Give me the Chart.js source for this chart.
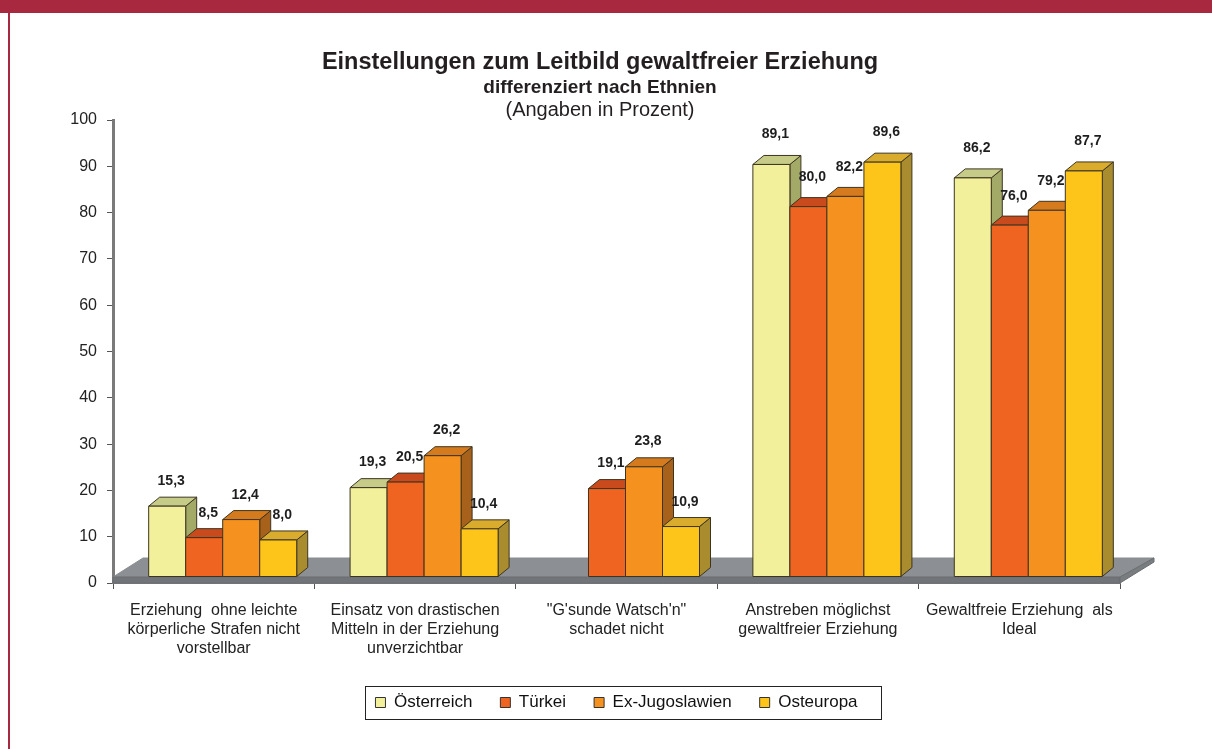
<!DOCTYPE html>
<html><head><meta charset="utf-8">
<script src="https://cdn.jsdelivr.net/npm/chart.js@4.4.1/dist/chart.umd.min.js"></script>
<style>html,body{margin:0;padding:0;background:#fff;}canvas{display:block;}</style>
</head><body>
<canvas id="c" width="1212" height="749"></canvas>
<script>
// ---------- data ----------
const titleLines = ["Einstellungen zum Leitbild gewaltfreier Erziehung", "differenziert nach Ethnien", "(Angaben in Prozent)"];
const categories = [
  ["Erziehung  ohne leichte", "körperliche Strafen nicht", "vorstellbar"],
  ["Einsatz von drastischen", "Mitteln in der Erziehung", "unverzichtbar"],
  ["\"G'sunde Watsch'n\"", "schadet nicht"],
  ["Anstreben möglichst", "gewaltfreier Erziehung"],
  ["Gewaltfreie Erziehung  als", "Ideal"]
];
const seriesNames = ["Österreich", "Türkei", "Ex-Jugoslawien", "Osteuropa"];
const oesterreich   = [15.3, 19.3, null, 89.1, 86.2];
const tuerkei       = [8.5, 20.5, 19.1, 80.0, 76.0];
const exJugoslawien = [12.4, 26.2, 23.8, 82.2, 79.2];
const osteuropa     = [8.0, 10.4, 10.9, 89.6, 87.7];
const yTickValues   = [0, 10, 20, 30, 40, 50, 60, 70, 80, 90, 100];

// ---------- style ----------
const FONT = '"Liberation Sans", Arial, sans-serif';
const palette = [
  {front: '#f3f09c', top: '#c6cc88', side: '#a3aa68'},
  {front: '#ef6420', top: '#c94a1c', side: '#9c3c15'},
  {front: '#f5921f', top: '#d57b1e', side: '#a8611a'},
  {front: '#fdc419', top: '#d9ac2e', side: '#a98c2e'}
];
const SX = 9, SY = -6, DX = 11, DY = 9;       // 3D offsets
const FLOOR_DX = 34, FLOOR_DY = 19;

function poly(ctx, pts, fill) {
  ctx.beginPath();
  ctx.moveTo(pts[0][0], pts[0][1]);
  for (let k = 1; k < pts.length; k++) ctx.lineTo(pts[k][0], pts[k][1]);
  ctx.closePath();
  ctx.fillStyle = fill; ctx.fill(); ctx.stroke();
}
function fmt(v) { return v.toFixed(1).replace('.', ','); }

const bar3d = {
  id: 'bar3d',
  beforeDraw(chart) {
    const ctx = chart.ctx;
    ctx.save();
    ctx.fillStyle = '#ffffff'; ctx.fillRect(0, 0, chart.width, chart.height);
    ctx.fillStyle = '#a8293f';
    ctx.fillRect(0, 0, chart.width, 13);
    ctx.fillRect(8, 13, 2, chart.height - 13);
    ctx.restore();
  },
  beforeDatasetsDraw(chart) {
    const ctx = chart.ctx, xs = chart.scales.x, ys = chart.scales.y;
    const y0 = ys.getPixelForValue(0);
    ctx.save();
    // floor
    const fl = xs.left, fr = xs.right, fy = y0 - 6;
    ctx.lineWidth = 1; ctx.strokeStyle = '#8a8d90';
    poly(ctx, [[fl, fy], [fl + FLOOR_DX - 4, fy - FLOOR_DY], [fr + FLOOR_DX, fy - FLOOR_DY], [fr, fy]], '#8c8f93');
    ctx.strokeStyle = '#6a6d70';
    poly(ctx, [[fl, fy], [fr, fy], [fr, y0], [fl, y0]], '#717478');
    poly(ctx, [[fr, fy], [fr + FLOOR_DX, fy - FLOOR_DY], [fr + FLOOR_DX, fy - FLOOR_DY + 4], [fr, y0]], '#7a7d80');

    // bars
    const labels = [];
    ctx.lineWidth = 1; ctx.strokeStyle = '#3d3522'; ctx.lineJoin = 'round';
    for (let j = 0; j < chart.data.labels.length; j++) {
      for (let i = 0; i < chart.data.datasets.length; i++) {
        const v = chart.data.datasets[i].data[j];
        if (v == null) continue;
        const el = chart.getDatasetMeta(i).data[j];
        const p = el.getProps(['x', 'y', 'base', 'width'], true);
        const l = p.x - p.width / 2 + SX, r = p.x + p.width / 2 + SX;
        const t = p.y + SY, b = p.base + SY;
        const c = palette[i];
        poly(ctx, [[r, t], [r + DX, t - DY], [r + DX, b - DY], [r, b]], c.side);
        poly(ctx, [[l, t], [l + DX, t - DY], [r + DX, t - DY], [r, t]], c.top);
        poly(ctx, [[l, t], [r, t], [r, b], [l, b]], c.front);
        labels.push([fmt(v), (l + r) / 2 + 4, t - 24 - v * 0.07]);
      }
    }
    ctx.fillStyle = '#1e1e1e';
    ctx.font = 'bold 14px ' + FONT;
    ctx.textAlign = 'center'; ctx.textBaseline = 'middle';
    labels.forEach(([s, x, y]) => ctx.fillText(s, x, y));
    ctx.restore();
    return false;
  },
  afterDraw(chart) {
    const ctx = chart.ctx;
    ctx.save();
    ctx.fillStyle = '#231f20';
    ctx.textAlign = 'center'; ctx.textBaseline = 'middle';
    ctx.font = 'bold 23.5px ' + FONT; ctx.fillText(titleLines[0], 600, 63);
    ctx.font = 'bold 19px ' + FONT; ctx.fillText(titleLines[1], 600, 88);
    ctx.font = '20px ' + FONT; ctx.fillText(titleLines[2], 600, 110);
    // legend frame
    const hb = chart.legend.legendHitBoxes;
    if (hb && hb.length) {
      const left = Math.min(...hb.map(h => h.left)) - 10;
      const right = Math.max(...hb.map(h => h.left + h.width)) + 24;
      const top = Math.min(...hb.map(h => h.top)) - 8;
      const bottom = Math.max(...hb.map(h => h.top + h.height)) + 8;
      ctx.strokeStyle = '#222'; ctx.lineWidth = 1;
      ctx.strokeRect(Math.round(left) + 0.5, Math.round(top) + 0.5, Math.round(right - left), Math.round(bottom - top));
    }
    ctx.restore();
  }
};

const seriesData = [oesterreich, tuerkei, exJugoslawien, osteuropa];
new Chart(document.getElementById('c'), {
  type: 'bar',
  data: {
    labels: categories,
    datasets: seriesNames.map((name, i) => ({
      label: name,
      data: seriesData[i],
      backgroundColor: palette[i].front,
      borderColor: '#333',
      borderWidth: 1,
      categoryPercentage: 0.735,
      barPercentage: 1.0
    }))
  },
  options: {
    responsive: false,
    animation: false,
    devicePixelRatio: 1,
    layout: {padding: {left: 0, right: 92, top: 120, bottom: 28}},
    plugins: {
      title: {display: false},
      tooltip: {enabled: false},
      legend: {
        position: 'bottom',
        fullSize: false,
        labels: {
          boxWidth: 10, boxHeight: 10, padding: 28,
          color: '#111', font: {family: FONT, size: 17}
        }
      }
    },
    scales: {
      x: {
        z: 1,
        afterFit(scale) { scale.height = 83; },
        grid: {drawOnChartArea: false, drawTicks: true, tickLength: 6, color: '#555', offset: true},
        border: {display: true, color: '#7a7a7a', width: 2},
        ticks: {color: '#222', padding: 12, font: {family: FONT, size: 16, lineHeight: 1.19}, maxRotation: 0, autoSkip: false}
      },
      y: {
        min: 0, max: 100,
        afterFit(scale) { scale.width = 113; },
        afterBuildTicks(scale) { scale.ticks = yTickValues.map(v => ({value: v})); },
        grid: {drawOnChartArea: false, drawTicks: true, tickLength: 6, color: '#555'},
        border: {display: true, color: '#7a7a7a', width: 3},
        ticks: {color: '#222', padding: 10, font: {family: FONT, size: 16}}
      }
    }
  },
  plugins: [bar3d]
});
</script>
</body></html>
